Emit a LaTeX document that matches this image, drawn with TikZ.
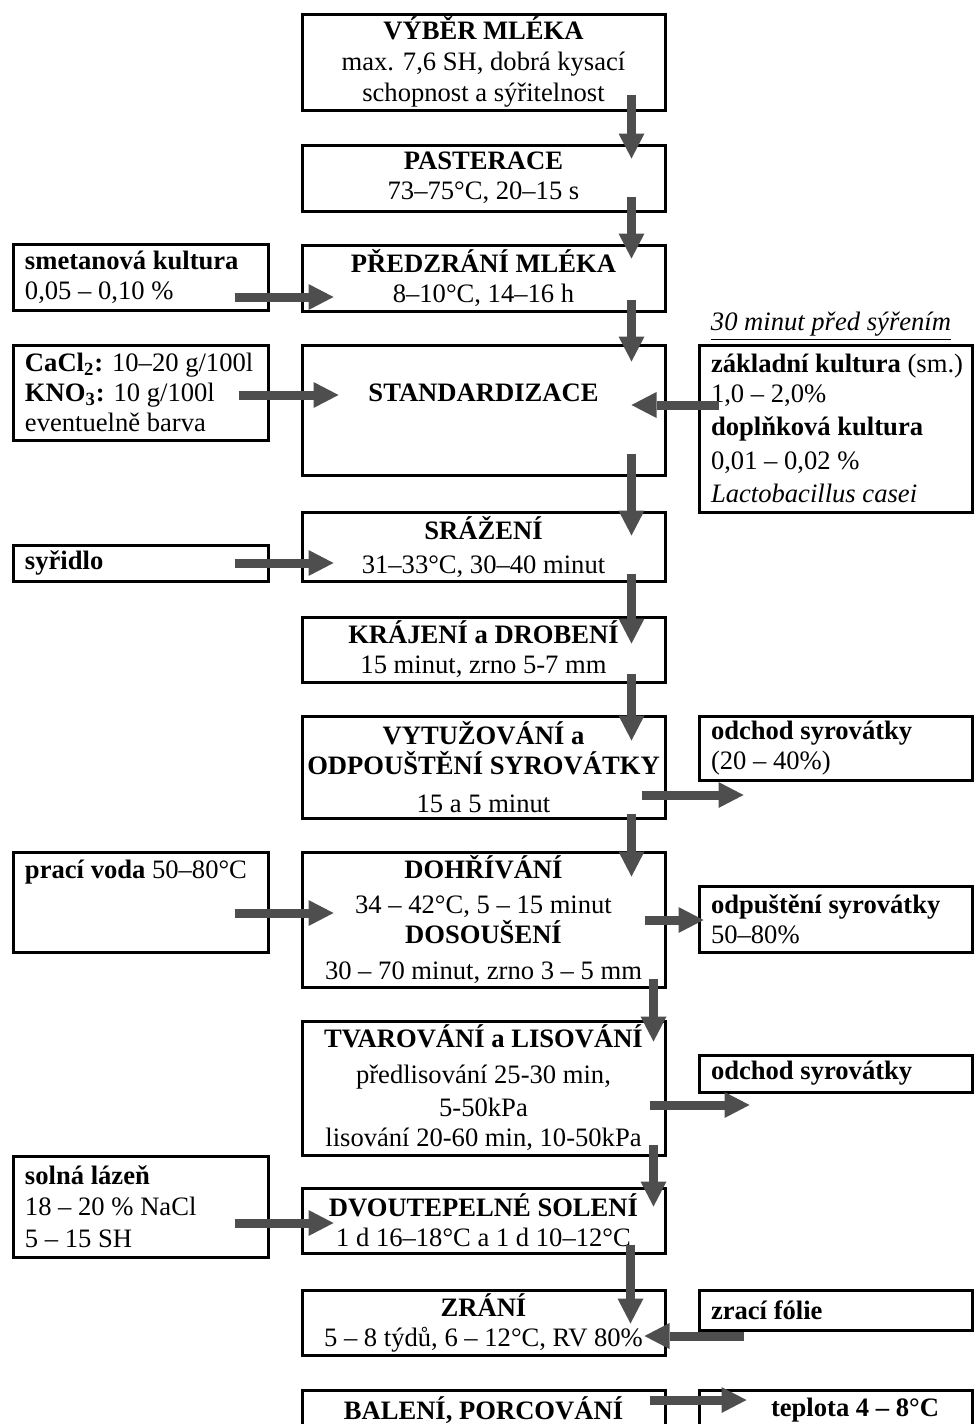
\documentclass[tikz,border=0pt]{standalone}
\usepackage{fontspec}
\setmainfont{Liberation Serif}
\usetikzlibrary{arrows.meta}
\definecolor{flowgray}{RGB}{78,78,78}

\begin{document}
\begin{tikzpicture}[x=0.5pt,y=-0.5pt,
  font=\fontsize{13.3}{15}\selectfont,
  box/.style={draw,line width=1.5pt,inner sep=0pt},
  proc/.style={box,minimum width=181.5pt,align=center},
  side/.style={box,text width=115.5pt,inner xsep=6pt,align=flush left},
  rside/.style={box,text width=124.5pt,inner xsep=6pt,align=flush left},
  flow/.style={draw=flowgray,line width=4.5pt,
    -{Triangle[width=13pt,length=12.5pt,line width=0pt]}}]
  \useasboundingbox (0,0) rectangle (974,1424);
  \node[proc,minimum height=48pt] (vyber) at (483.5,62)
    {\textbf{VÝBĚR MLÉKA}\\[0.5pt]max. 7,6 SH, dobrá kysací\\[0.5pt]schopnost a sýřitelnost};
  \node[proc,minimum height=33pt] (paster) at (483.5,178)
    {\textbf{PASTERACE}\\73–75°C, 20–15 s};
  \node[proc,minimum height=33pt] (predzr) at (483.5,278)
    {\textbf{PŘEDZRÁNÍ MLÉKA}\\8–10°C, 14–16 h};
  \node[proc,text height=28pt,text depth=37pt] (stand) at (483.5,410)
    {\textbf{STANDARDIZACE}};
  \node[proc,minimum height=34.5pt] (srazeni) at (483.5,546.5)
    {\textbf{SRÁŽENÍ}\\[2pt]31–33°C, 30–40 minut};
  \node[proc,minimum height=32.5pt] (krajeni) at (483.5,649.5)
    {\textbf{KRÁJENÍ a DROBENÍ}\\15 minut, zrno 5-7 mm};
  \node[proc,minimum height=51pt] (vytuz) at (483.5,767)
    {\textbf{VYTUŽOVÁNÍ a}\\\textbf{ODPOUŠTĚNÍ SYROVÁTKY}\\[4pt]15 a 5 minut};
  \node[proc,minimum height=67.5pt] (dohriv) at (483.5,919.5)
    {\textbf{DOHŘÍVÁNÍ}\\[2.5pt]34 – 42°C, 5 – 15 minut\\\textbf{DOSOUŠENÍ}\\[3pt]30 – 70 minut, zrno 3 – 5 mm};
  \node[proc,minimum height=67pt] (tvar) at (483.5,1088)
    {\textbf{TVAROVÁNÍ a LISOVÁNÍ}\\[3pt]předlisování 25-30 min,\\[1.5pt]5-50kPa\\lisování 20-60 min, 10-50kPa};
  \node[proc,minimum height=32.5pt] (soleni) at (483.5,1220.5)
    {\textbf{DVOUTEPELNÉ SOLENÍ}\\1 d 16–18°C a 1 d 10–12°C};
  \node[proc,minimum height=32.5pt] (zrani) at (483.5,1322.5)
    {\textbf{ZRÁNÍ}\\5 – 8 týdů, 6 – 12°C, RV 80\%};
  \node[proc,minimum height=20pt] (baleni) at (483.5,1410)
    {\textbf{BALENÍ, PORCOVÁNÍ}};

  \node[side,minimum height=33pt] (smet) at (140.5,277)
    {\textbf{smetanová kultura}\\0,05 – 0,10 \%};
  \node[side,minimum height=47.5pt] (cacl) at (140.5,392.5)
    {\mbox{\textbf{CaCl\textsubscript{2}:} 10–20 g/100l}\\\textbf{KNO\textsubscript{3}:} 10 g/100l\\eventuelně barva};
  \node[side,minimum height=18pt] (syridlo) at (140.5,563)
    {\textbf{syřidlo}};
  \node[side,text height=13pt,text depth=37pt] (praci) at (140.5,902)
    {\mbox{\textbf{prací voda} 50–80°C}};
  \node[side,minimum height=50.5pt] (solna) at (140.5,1206.5)
    {\textbf{solná lázeň}\\[0.5pt]18 – 20 \% NaCl\\[1pt]5 – 15 SH};

  \node (pozn) at (831,326) {\underline{\textit{30 minut před sýřením}}};
  \node[rside,minimum height=83.5pt] (zakl) at (835.5,428.5)
    {\mbox{\textbf{základní kultura} (sm.)}\\1,0 – 2,0\%\\[1.5pt]\textbf{doplňková kultura}\\[2pt]0,01 – 0,02 \%\\[1.5pt]\textit{Lactobacillus casei}};
  \node[rside,minimum height=32pt] (odchod) at (835.5,748)
    {\textbf{odchod syrovátky}\\(20 – 40\%)};
  \node[rside,minimum height=33pt] (odpust) at (835.5,919)
    {\mbox{\textbf{odpuštění syrovátky}}\\50–80\%};
  \node[rside,minimum height=18.5pt] (odchodb) at (835.5,1073.5)
    {\textbf{odchod syrovátky}};
  \node[rside,minimum height=20pt] (folie) at (835.5,1310)
    {\textbf{zrací fólie}};
  \node[rside,minimum height=20pt] (teplota) at (835.5,1410)
    {\hspace*{30pt}\textbf{teplota 4 – 8°C}};

  \draw[flow] ([xshift=-17.5pt,yshift=8.5pt]vyber.south east) -- ([xshift=-17.5pt,yshift=-7.5pt]paster.north east);
  \draw[flow] ([xshift=-17.5pt,yshift=8pt]paster.south east) -- ([xshift=-17.5pt,yshift=-7.5pt]predzr.north east);
  \draw[flow] ([xshift=-17.5pt,yshift=6.5pt]predzr.south east) -- ([xshift=-17.5pt,yshift=-9pt]stand.north east);
  \draw[flow] ([xshift=-17.5pt,yshift=11.5pt]stand.south east) -- ([xshift=-17.5pt,yshift=-12.5pt]srazeni.north east);
  \draw[flow] ([xshift=-17.5pt,yshift=4.5pt]srazeni.south east) -- ([xshift=-17.5pt,yshift=-14pt]krajeni.north east);
  \draw[flow] ([xshift=-17.5pt,yshift=5pt]krajeni.south east) -- ([xshift=-17.5pt,yshift=-13pt]vytuz.north east);
  \draw[flow] ([xshift=-17.5pt,yshift=3pt]vytuz.south east) -- ([xshift=-17.5pt,yshift=-13pt]dohriv.north east);
  \draw[flow] ([xshift=-6.5pt,yshift=5pt]dohriv.south east) -- ([xshift=-6.5pt,yshift=-11pt]tvar.north east);
  \draw[flow] ([xshift=-6.5pt,yshift=6pt]tvar.south east) -- ([xshift=-6.5pt,yshift=-10pt]soleni.north east);
  \draw[flow] ([xshift=-18pt,yshift=5pt]soleni.south east) -- ([xshift=-18pt,yshift=-17.5pt]zrani.north east);

  \draw[flow] ([xshift=-17.5pt,yshift=-10pt]smet.east) -- ([xshift=16.5pt,yshift=-9.5pt]predzr.west);
  \draw[flow] ([xshift=-15.5pt,yshift=-1.25pt]cacl.east) -- ([xshift=19pt,yshift=7.5pt]stand.west);
  \draw[flow] ([xshift=10.5pt,yshift=11.75pt]zakl.west) -- ([xshift=-17.5pt,yshift=2.5pt]stand.east);
  \draw[flow] ([xshift=-17.5pt]syridlo.east) -- ([xshift=16.5pt,yshift=-8.25pt]srazeni.west);
  \draw[flow] ([xshift=-12.5pt,yshift=-14pt]vytuz.east) -- ([xshift=23pt,yshift=-23.5pt]odchod.west);
  \draw[flow] ([xshift=-17.5pt,yshift=-5.5pt]praci.east) -- ([xshift=16.5pt,yshift=3.25pt]dohriv.west);
  \draw[flow] ([xshift=-11pt,yshift=-0.25pt]dohriv.east) -- ([xshift=3pt,yshift=-0.5pt]odpust.west);
  \draw[flow] ([xshift=-8.5pt,yshift=-8.5pt]tvar.east) -- ([xshift=26pt,yshift=-15.75pt]odchodb.west);
  \draw[flow] ([xshift=-17.5pt,yshift=-8.25pt]solna.east) -- ([xshift=16.5pt,yshift=-1.25pt]soleni.west);
  \draw[flow] ([xshift=23pt,yshift=-13pt]folie.west) -- ([xshift=-11pt,yshift=-6.75pt]zrani.east);
  \draw[flow] ([xshift=-8.5pt,yshift=5pt]baleni.east) -- ([xshift=24.5pt,yshift=5pt]teplota.west);
\end{tikzpicture}
\end{document}
